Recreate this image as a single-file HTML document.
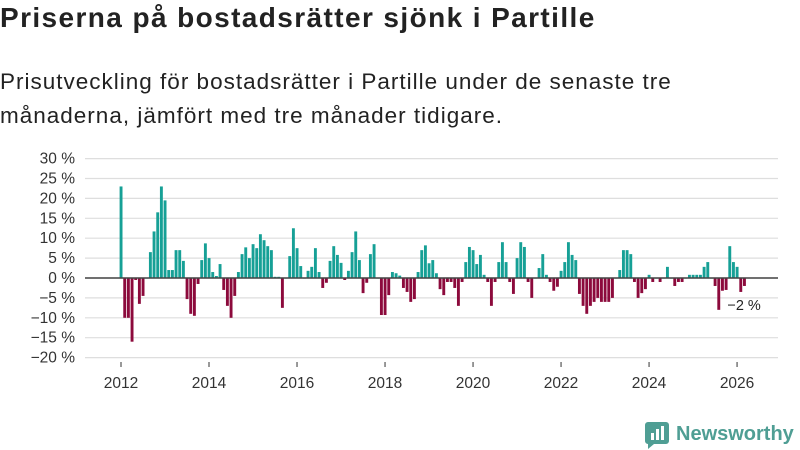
<!DOCTYPE html>
<html><head><meta charset="utf-8"><style>
body{margin:0;width:800px;height:450px;background:#fff;font-family:"Liberation Sans","DejaVu Sans",sans-serif;overflow:hidden;position:relative}
#title{position:absolute;left:0;top:2px;font-size:28px;letter-spacing:1.4px;font-weight:bold;color:#222;margin:0;white-space:nowrap}
#sub{position:absolute;left:0;top:65px;font-size:22.5px;letter-spacing:1px;line-height:34px;color:#222;width:800px;white-space:nowrap}
svg{position:absolute;left:0;top:0}
</style></head><body>
<h1 id="title">Priserna på bostadsrätter sjönk i Partille</h1>
<div id="sub">Prisutveckling för bostadsrätter i Partille under de senaste tre<br>månaderna, jämfört med tre månader tidigare.</div>
<svg id="chart" width="800" height="450"></svg>
<script>
const startYear = 2012;
const values = [23,-10,-10,-16,-0.5,-6.5,-4.5,0,6.5,11.7,16.5,23,19.5,2,2,7,7,4.3,-5.3,-9,-9.5,-1.5,4.5,8.7,5,1.5,0.5,3.5,-3,-7,-10,-4.5,1.5,6,7.7,5,8.5,7.5,11,9.5,8,7,0.3,0.3,
-7.5,0,5.5,12.5,7.5,3,0,1.8,2.8,7.5,1.5,-2.5,-1.2,4.3,8,5.8,3.8,-0.5,1.8,6.5,11.7,4.5,-3.8,-1.2,6,8.5,0,-9.3,-9.3,-4.3,1.5,1.2,0.6,-2.5,-3.5,-6,-5.3,1.5,7,8.2,3.7,4.5,1.2,-2.8,-4.3,
-1,-1,-2.5,-7,-1,4,7.8,7,3.5,5.8,0.8,-1,-7,-1,4,9,4,-1,-4,5,9,7.8,-1,-5,0,2.5,6,0.8,-1,-3.2,-2.2,1.8,4,9,5.8,4.5,-4,-7,-9,-7,-6,-5,-6,-6,-6,
-5,0,2,7,7,6,-1,-5,-3.8,-2.8,0.8,-1,0,-1,0,2.8,0,-2,-1,-1,0,0.8,0.8,0.8,0.8,2.8,4,0,-2,-8,-3.2,-3,8,4,2.8,-3.5,-2];
const yTicks = [30,25,20,15,10,5,0,-5,-10,-15,-20];
const xTicks = [2012,2014,2016,2018,2020,2022,2024,2026];
const lastLabel = "−2 %";

const svg = document.getElementById('chart');
const NS = 'http://www.w3.org/2000/svg';
const yScale = v => 278 - v * 3.98;
const xScale = m => 121 + m * 3.667; // months since Jan 2012
function mk(tag, attrs){const e=document.createElementNS(NS,tag);for(const k in attrs)e.setAttribute(k,attrs[k]);svg.appendChild(e);return e;}

yTicks.forEach(t=>{
  const g = mk('line',{x1:85,x2:778,y1:yScale(t),y2:yScale(t),stroke:'#dedede','stroke-width':1.2});
  
  
  const l = mk('text',{x:75,y:yScale(t)+5,'text-anchor':'end','font-size':15.5,fill:'#333'});
  l.textContent = (t<0?'−'+(-t):t)+' %';
  
  
});
xTicks.forEach(y=>{
  const x = xScale((y-startYear)*12);
  const tk = mk('line',{x1:x,x2:x,y1:362,y2:367,stroke:'#333','stroke-width':1});
  
  
  const l = mk('text',{x:x,y:388,'text-anchor':'middle','font-size':15.5,fill:'#333'});
  l.textContent = y;
  
  
});
values.forEach((v,i)=>{
  const x = xScale(i);
  const y0 = yScale(0), y1 = yScale(v);
  const r = mk('rect',{x:x-1.4,y:Math.min(y0,y1),width:2.9,height:Math.max(Math.abs(y1-y0),0.6),fill:v>=0?'#16a096':'#8c0a3c'});
  
  
});
const z = mk('line',{x1:85,x2:778,y1:yScale(0),y2:yScale(0),stroke:'#444','stroke-width':1.5});


const ll = mk('text',{x:xScale(values.length-1)-17,y:310,'font-size':14.5,fill:'#222'});
ll.textContent = lastLabel;


</script>
<svg width="800" height="450" style="position:absolute;left:0;top:0">
  <path d="M646 422 h20 a3 3 0 0 1 3 3 v16 a3 3 0 0 1 -3 3 h-12 l-6 5 v-5 a3 3 0 0 1 -3 -3 v-16 a3 3 0 0 1 3 -3z" fill="#4f9e94"/>
  <rect x="651" y="433" width="3" height="7" fill="#fff"/><rect x="656" y="429" width="3" height="11" fill="#fff"/><rect x="661" y="426" width="3" height="14" fill="#fff"/>
  <text x="676" y="440" font-size="20" font-weight="bold" fill="#4f9e94" font-family="Liberation Sans, sans-serif">Newsworthy</text>
</svg>
</body></html>
